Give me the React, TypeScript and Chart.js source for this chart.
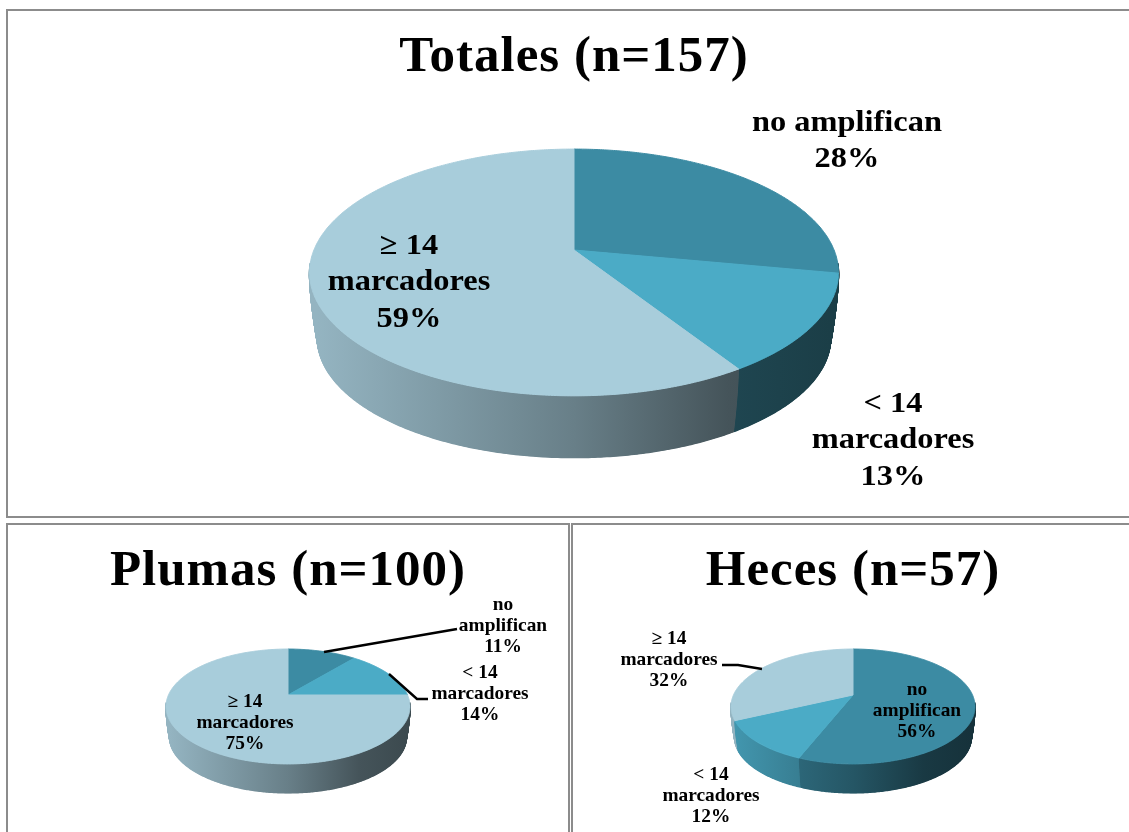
import React, { useEffect, useRef } from "react";
import { Chart, registerables } from "chart.js";

Chart.register(...registerables);

// ---------- data ----------
const categories = ["no amplifican", "< 14 marcadores", "≥ 14 marcadores"];
const totalesValues = [28, 13, 59];
const plumasValues = [11, 14, 75];
const hecesValues = [56, 12, 32];
const sliceColors = ["#3c8ba3", "#4babc6", "#a8cddb"];
const totalesLabels = [["no amplifican", "28%"], ["< 14", "marcadores", "13%"], ["≥ 14", "marcadores", "59%"]];
const plumasLabels = [["no", "amplifican", "11%"], ["< 14", "marcadores", "14%"], ["≥ 14", "marcadores", "75%"]];
const hecesLabels = [["no", "amplifican", "56%"], ["< 14", "marcadores", "12%"], ["≥ 14", "marcadores", "32%"]];

// ---------- layout of each panel (page pixels) ----------
const SERIF = '"Liberation Serif", serif';

type Panel = {
  title: string; values: number[]; labels: string[][];
  left: number; top: number; width: number; height: number;
  radius: number; padTop: number; padBottom: number; titleSize: number;
  tilt: number; squash: number; depth: number; taper: number;
  font: number; stretch: number; lineGap: number;
  anchors: number[][]; leaders: number[][][];
};

const panels: Panel[] = [
  {
    title: "Totales (n=157)", values: totalesValues, labels: totalesLabels,
    left: 0, top: 0, width: 1148, height: 516,
    radius: 264.5, padTop: 27.4, padBottom: 104.6, titleSize: 51,
    tilt: -0.182, squash: 0.451, depth: 0.25, taper: 0.97,
    font: 30, stretch: 1.08, lineGap: 36.5,
    anchors: [[847, 123], [893, 404], [409, 246]],
    leaders: [],
  },
  {
    title: "Plumas (n=100)", values: plumasValues, labels: plumasLabels,
    left: 0, top: 524, width: 576, height: 308,
    radius: 122, padTop: 17.4, padBottom: 44.6, titleSize: 51,
    tilt: -0.2, squash: 0.452, depth: 0.254, taper: 0.97,
    font: 19, stretch: 1.02, lineGap: 20.8,
    anchors: [[503, 605.5], [480, 673.5], [245, 702.5]],
    leaders: [
      [[324, 652], [457, 629]],
      [[389, 674], [417, 699], [428, 699]],
    ],
  },
  {
    title: "Heces (n=57)", values: hecesValues, labels: hecesLabels,
    left: 574, top: 524, width: 558, height: 308,
    radius: 122, padTop: 17.4, padBottom: 44.6, titleSize: 51,
    tilt: -0.2, squash: 0.452, depth: 0.254, taper: 0.97,
    font: 19, stretch: 1.02, lineGap: 21,
    anchors: [[917, 690.5], [711, 775.5], [669, 639.5]],
    leaders: [[[722, 665], [738, 665], [762, 669]]],
  },
];

// ---------- helpers ----------
function shade(hex: string, f: number) {
  const n = parseInt(hex.slice(1), 16);
  const r = Math.round(((n >> 16) & 255) * f);
  const g = Math.round(((n >> 8) & 255) * f);
  const b = Math.round((n & 255) * f);
  return `rgb(${r},${g},${b})`;
}

const SIDE_STOPS = [[0, 0.88], [0.5, 0.62], [0.8, 0.41], [1, 0.36]];

// Perspective view of the pie: every slice keeps the angles the library computed.
const perspectivePie = {
  id: "perspectivePie",
  beforeDraw(chart: any) {
    chart.ctx.letterSpacing = "1px";
  },
  beforeDatasetsDraw(chart: any, _args: any, opts: any) {
    const p: Panel = opts.panel;
    const ctx: any = chart.ctx;
    ctx.letterSpacing = "0px";
    const arcs = chart.getDatasetMeta(0).data;
    const cx = arcs[0].x, cy = arcs[0].y, R = arcs[0].outerRadius;
    const k = p.tilt;
    const b = R * Math.sqrt(1 - k * k);
    const a = R * p.squash;
    const project = (ang: number) => {
      const X = Math.cos(ang), Y = Math.sin(ang), d = 1 + k * Y;
      return [(b * X) / d, (a * Y) / d];
    };
    const lift = R * p.depth;
    // rims run a little past the widest point, so the outline of the wall stays smooth
    const limit = Math.asin(-k) - 0.08;

    // wall of the pie: stacked rims, from the floor up to the top face
    const layers = Math.ceil(lift * 2);
    for (let l = layers; l >= 1; l--) {
      const t = l / layers;
      const taper = 1 - (1 - p.taper) * Math.pow(t, 1.5);
      const dy = lift * t;
      arcs.forEach((arc: any) => {
        const s = Math.max(arc.startAngle, limit);
        const e = Math.min(arc.endAngle, Math.PI - limit);
        if (e <= s) return;
        const color = arc.options.backgroundColor;
        const grad = ctx.createLinearGradient(cx - R * p.taper, 0, cx + R * p.taper, 0);
        SIDE_STOPS.forEach(([u, f]) => grad.addColorStop(u, shade(color, f)));
        const n = Math.ceil((e - s) / 0.01);
        ctx.beginPath();
        for (let i = 0; i <= n; i++) {
          const [x, y] = project(s + ((e - s) * i) / n);
          const px = cx + x * taper, py = cy + y * taper + dy;
          if (i === 0) ctx.moveTo(px, py);
          else ctx.lineTo(px, py);
        }
        ctx.strokeStyle = grad;
        ctx.lineWidth = 1.5;
        ctx.stroke();
      });
    }

    // top face
    arcs.forEach((arc: any) => {
      const s = arc.startAngle, e = arc.endAngle;
      const n = Math.ceil((e - s) / 0.01);
      ctx.beginPath();
      ctx.moveTo(cx, cy);
      for (let i = 0; i <= n; i++) {
        const [x, y] = project(s + ((e - s) * i) / n);
        ctx.lineTo(cx + x, cy + y);
      }
      ctx.closePath();
      ctx.fillStyle = arc.options.backgroundColor;
      ctx.strokeStyle = arc.options.backgroundColor;
      ctx.lineWidth = 1;
      ctx.fill();
      ctx.stroke();
    });
    return false;
  },
  afterDraw(chart: any, _args: any, opts: any) {
    const p: Panel = opts.panel;
    const ctx: any = chart.ctx;
    ctx.save();
    ctx.strokeStyle = "#000";
    ctx.lineWidth = 2.4;
    p.leaders.forEach((line) => {
      ctx.beginPath();
      line.forEach(([x, y], i) => {
        if (i === 0) ctx.moveTo(x - p.left, y - p.top);
        else ctx.lineTo(x - p.left, y - p.top);
      });
      ctx.stroke();
    });
    ctx.fillStyle = "#000";
    ctx.font = `bold ${p.font}px ${SERIF}`;
    ctx.textAlign = "center";
    ctx.textBaseline = "middle";
    ctx.letterSpacing = "0px";
    p.labels.forEach((lines, i) => {
      const [x, y] = p.anchors[i];
      lines.forEach((line, j) => {
        ctx.save();
        ctx.translate(x - p.left, y - p.top + j * p.lineGap);
        ctx.scale(p.stretch, 1);
        ctx.fillText(line, 0, 0);
        ctx.restore();
      });
    });
    ctx.restore();
  },
};

function PieCanvas({ panel }: { panel: Panel }) {
  const ref = useRef<HTMLCanvasElement>(null);
  useEffect(() => {
    const chart = new Chart(ref.current as HTMLCanvasElement, {
      type: "pie",
      data: {
        labels: categories,
        datasets: [{ data: panel.values, backgroundColor: sliceColors, borderWidth: 0 }],
      },
      options: {
        animation: false,
        responsive: false,
        radius: panel.radius,
        layout: { padding: { top: 0, left: 0, right: 0, bottom: panel.padBottom } },
        plugins: {
          legend: { display: false },
          tooltip: { enabled: false },
          title: {
            display: true,
            text: panel.title,
            color: "#000",
            font: { family: SERIF, size: panel.titleSize, weight: "bold", lineHeight: 1.2 },
            padding: { top: panel.padTop, bottom: 0 },
          },
          perspectivePie: { panel },
        },
      } as any,
      plugins: [perspectivePie as any],
    });
    return () => chart.destroy();
  }, [panel]);
  return (
    <canvas
      ref={ref}
      width={panel.width}
      height={panel.height}
      style={{
        position: "absolute",
        left: panel.left,
        top: panel.top,
        width: panel.width,
        height: panel.height,
        filter: "blur(0.4px)",
      }}
    />
  );
}

const frame = (left: number, top: number, width: number, height: number): React.CSSProperties => ({
  position: "absolute",
  left,
  top,
  width,
  height,
  border: "2px solid #8c8c8c",
  boxSizing: "border-box",
});

export default function App() {
  return (
    <div style={{ position: "fixed", inset: 0, overflow: "hidden", background: "#fff" }}>
      <div style={frame(6, 9, 1140, 509)} />
      <div style={frame(6, 523, 564, 330)} />
      <div style={frame(571, 523, 580, 330)} />
      {panels.map((p) => (
        <PieCanvas key={p.title} panel={p} />
      ))}
    </div>
  );
}
